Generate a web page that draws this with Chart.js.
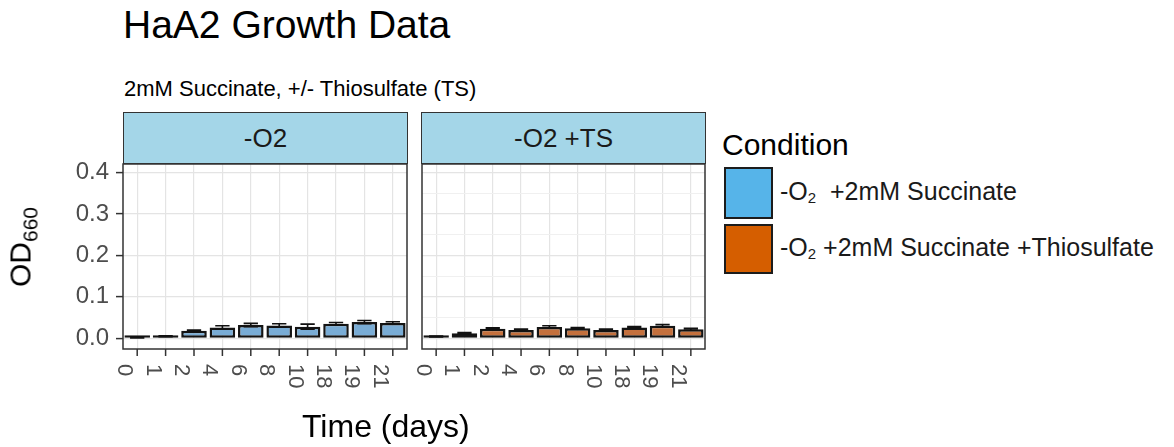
<!DOCTYPE html>
<html>
<head>
<meta charset="utf-8">
<script src="https://cdn.jsdelivr.net/npm/chart.js@4.4.1/dist/chart.umd.min.js"></script>
<style>
  body { margin: 0; background: #fff; font-family: "Liberation Sans", Arial, sans-serif; color: #000; }
  #wrap { position: relative; width: 1174px; height: 447px; overflow: hidden; background: #fff; }
  .abs { position: absolute; line-height: 1; white-space: nowrap; }
  canvas { position: absolute; top: 0; }
  .strip { position: absolute; top: 112px; height: 52px; box-sizing: border-box; background: #a4d6e8;
           border: 1.5px solid #333; display: flex; align-items: center; justify-content: center;
           font-size: 26px; color: #1a1a1a; }
  .key { position: absolute; left: 724px; width: 49px; box-sizing: border-box; border: 2.5px solid #1c1c1c; }
  .lab { position: absolute; left: 780px; font-size: 25px; line-height: 1; white-space: nowrap; color: #1a1a1a; }
  .lab sub { font-size: 15px; vertical-align: -3px; }
</style>
</head>
<body>
<div id="wrap">
  <div class="abs" style="left:123px; top:5px; font-size:39px;">HaA2 Growth Data</div>
  <div class="abs" style="left:124px; top:78px; font-size:22px;">2mM Succinate, +/- Thiosulfate (TS)</div>

  <div class="strip" id="strip1" style="left:123px; width:285px;"></div>
  <div class="strip" id="strip2" style="left:421px; width:285px;"></div>

  <canvas id="panel1" width="415" height="447" style="left:0; width:415px; height:447px;"></canvas>
  <canvas id="panel2" width="300" height="447" style="left:415px; width:300px; height:447px;"></canvas>

  <div class="abs" style="left:23px; top:247px; font-size:30px; transform: translate(-50%, -50%) rotate(-90deg);">OD<sub style="font-size:21px;">660</sub></div>
  <div class="abs" style="left:302px; top:410px; font-size:32px;">Time (days)</div>

  <div class="abs" style="left:722px; top:130px; font-size:30px;">Condition</div>
  <div class="key" style="top:167px; height:52px; background:#56B4E9;"></div>
  <div class="key" style="top:224px; height:50px; background:#D55E00;"></div>
  <div class="lab" style="top:179px;">-O<sub>2</sub>&nbsp; +2mM Succinate</div>
  <div class="lab" style="top:235px;">-O<sub>2</sub> +2mM Succinate&nbsp;+Thiosulfate</div>
</div>

<script>
// time points (days) and mean OD660 per panel
const days = ['0', '1', '2', '4', '6', '8', '10', '18', '19', '21'];
const odNoTS = [0.002, 0.005, 0.018, 0.026, 0.032, 0.031, 0.028, 0.035, 0.039, 0.037];
const errNoTS = [0.001, 0.001, 0.002, 0.004, 0.004, 0.004, 0.006, 0.003, 0.004, 0.003];
const odTS = [0.004, 0.012, 0.023, 0.020, 0.027, 0.024, 0.020, 0.026, 0.030, 0.022];
const errTS = [0.001, 0.002, 0.002, 0.002, 0.003, 0.002, 0.002, 0.002, 0.003, 0.002];

// y grid: major lines get labels, minor ones only a faint line
const yGridValues = [0, 0.05, 0.1, 0.15, 0.2, 0.25, 0.3, 0.35, 0.4];
const panelNames = ['-O2', '-O2 +TS'];

document.getElementById('strip1').textContent = panelNames[0];
document.getElementById('strip2').textContent = panelNames[1];

const isMajor = v => Math.abs(v * 10 - Math.round(v * 10)) < 1e-6;

// error bars, panel border, rotated x labels
const panelDecor = {
    id: 'panelDecor',
    afterDatasetsDraw(chart) {
        const ctx = chart.ctx;
        const yScale = chart.scales.y;
        chart.data.datasets.forEach((ds, di) => {
            const meta = chart.getDatasetMeta(di);
            meta.data.forEach((bar, i) => {
                const v = ds.data[i];
                const e = ds.errors[i];
                const yTop = yScale.getPixelForValue(v + e);
                const yBot = yScale.getPixelForValue(v - e);
                const half = bar.width * 0.28;
                ctx.save();
                ctx.strokeStyle = '#111';
                ctx.lineWidth = 1.6;
                ctx.beginPath();
                ctx.moveTo(bar.x, yTop); ctx.lineTo(bar.x, yBot);
                ctx.moveTo(bar.x - half, yTop); ctx.lineTo(bar.x + half, yTop);
                ctx.moveTo(bar.x - half, yBot); ctx.lineTo(bar.x + half, yBot);
                ctx.stroke();
                ctx.restore();
            });
        });
    },
    afterDraw(chart) {
        const { ctx, chartArea: a } = chart;
        const xScale = chart.scales.x;
        ctx.save();
        ctx.strokeStyle = '#333';
        ctx.lineWidth = 1.5;
        ctx.strokeRect(a.left, a.top, a.right - a.left, a.bottom - a.top);
        ctx.fillStyle = '#4d4d4d';
        ctx.font = '22px "Liberation Sans", Arial, sans-serif';
        ctx.textAlign = 'left';
        ctx.textBaseline = 'middle';
        chart.data.labels.forEach((label, i) => {
            const x = xScale.getPixelForValue(i);
            ctx.beginPath();
            ctx.moveTo(x, a.bottom);
            ctx.lineTo(x, a.bottom + 7);
            ctx.stroke();
            ctx.save();
            ctx.translate(x - 13, a.bottom + 15);
            ctx.rotate(Math.PI / 2);
            ctx.fillText(label, 0, 0);
            ctx.restore();
        });
        ctx.restore();
    }
};

function makePanel(id, values, errors, fill, showY, padding) {
    const ctx = document.getElementById(id).getContext('2d');
    return new Chart(ctx, {
        type: 'bar',
        data: {
            labels: days,
            datasets: [{
                data: values,
                errors: errors,
                backgroundColor: fill,
                borderColor: '#141414',
                borderWidth: 2.5,
                borderSkipped: false,
                minBarLength: 3,
                barPercentage: 0.9,
                categoryPercentage: 1.0
            }]
        },
        options: {
            responsive: false,
            animation: false,
            layout: { padding: padding },
            plugins: { legend: { display: false }, tooltip: { enabled: false } },
            scales: {
                x: {
                    afterFit: s => { s.height = 0; },
                    ticks: { display: false },
                    border: { display: false },
                    grid: { offset: false, drawTicks: false, color: '#e4e4e4', lineWidth: 1.2 }
                },
                y: {
                    min: -0.026,
                    max: 0.421,
                    afterBuildTicks: s => { s.ticks = yGridValues.map(v => ({ value: v })); },
                    afterFit: s => { s.width = showY ? 123 : 0; },
                    border: { display: false },
                    ticks: {
                        display: showY,
                        padding: 7,
                        color: '#4d4d4d',
                        font: { size: 24, family: '"Liberation Sans", Arial, sans-serif' },
                        callback: v => isMajor(v) ? v.toFixed(1) : ''
                    },
                    grid: {
                        drawTicks: showY,
                        tickLength: 7,
                        tickWidth: 1.5,
                        tickColor: c => isMajor(c.tick.value) ? '#333' : 'rgba(0,0,0,0)',
                        color: c => isMajor(c.tick.value) ? '#e4e4e4' : '#f0f0f0',
                        lineWidth: c => isMajor(c.tick.value) ? 1.2 : 1
                    }
                }
            }
        },
        plugins: [panelDecor]
    });
}

makePanel('panel1', odNoTS, errNoTS, '#79acd5', true, { left: 0, top: 164, right: 8, bottom: 98 });
makePanel('panel2', odTS, errTS, '#c4703d', false, { left: 7, top: 164, right: 10, bottom: 98 });
</script>
</body>
</html>
